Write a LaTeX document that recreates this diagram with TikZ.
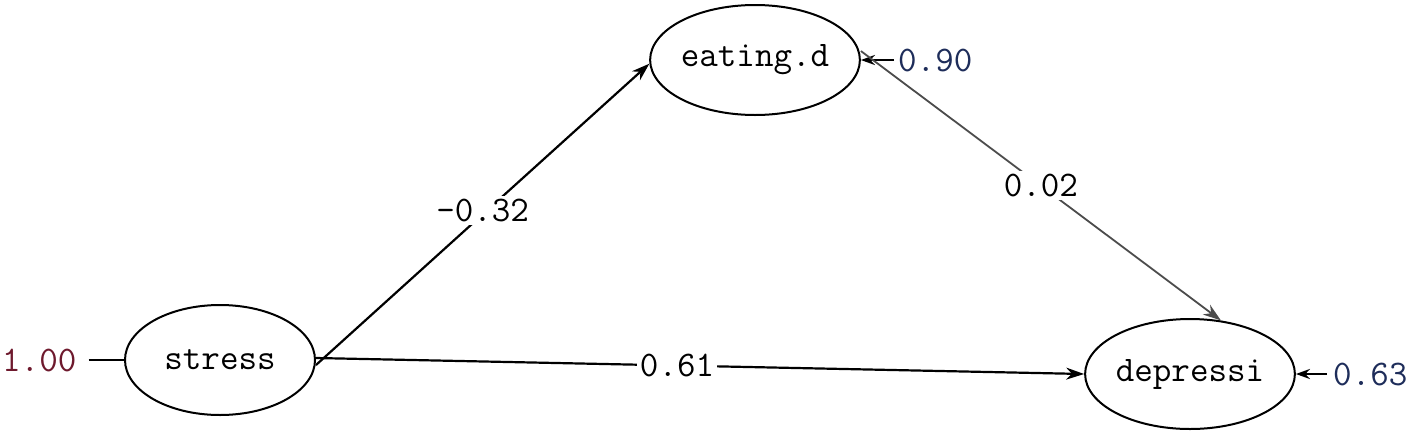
\documentclass[tikz,border=0pt]{standalone}
\usetikzlibrary{shapes.geometric,arrows.meta}
\definecolor{errred}{RGB}{110,25,45}
\definecolor{errblue}{RGB}{30,45,90}
\tikzset{
  latent/.style={ellipse, draw=black, line width=2pt, minimum width=190pt, minimum height=110pt, inner sep=0pt, font=\ttfamily\fontsize{36}{36}\selectfont},
  lbl/.style={font=\ttfamily\fontsize{36}{36}\selectfont, fill=white, inner sep=3pt},
  path/.style={line width=2.2pt, -{Stealth[length=18pt,width=12pt]}},
  weakpath/.style={line width=1.8pt, draw=black!70, -{Stealth[length=18pt,width=12pt]}},
  resid/.style={line width=2.6pt, -{Stealth[length=14pt,width=10pt]}}
}
\begin{document}
\begin{tikzpicture}[x=1pt,y=-1pt]
\useasboundingbox (0,0) rectangle (1417,437);
\node[latent] (stress) at (220,360) {stress};
\node[latent] (eat) at (755,60) {eating.d};
\node[latent] (dep) at (1190,374) {depressi};
% residual labels
\node[lbl, text=errred, anchor=west, inner sep=0pt] (r1) at (2,360) {1.00};
\node[lbl, text=errblue, anchor=west, inner sep=0pt] (r2) at (898,60) {0.90};
\node[lbl, text=errblue, anchor=west, inner sep=0pt] (r3) at (1333,374) {0.63};
\draw[line width=2.2pt] ([xshift=12pt]r1.east) -- (stress.west);
\draw[resid] ([xshift=-4pt]r2.west) -- (eat.east);
\draw[resid] ([xshift=-6pt]r3.west) -- (dep.east);
% paths
\draw[path] ([yshift=-5pt]stress.east) -- node[lbl, pos=0.5, yshift=4pt] (l1) {-0.32} (eat.182);
\draw[path] ([yshift=2pt]stress.east) -- node[lbl, pos=0.47] (l2) {0.61} (dep.west);
\draw[weakpath] ([yshift=9pt]eat.east) -- node[lbl, pos=0.5] (l3) {0.02} (dep.60);
\end{tikzpicture}
\end{document}
